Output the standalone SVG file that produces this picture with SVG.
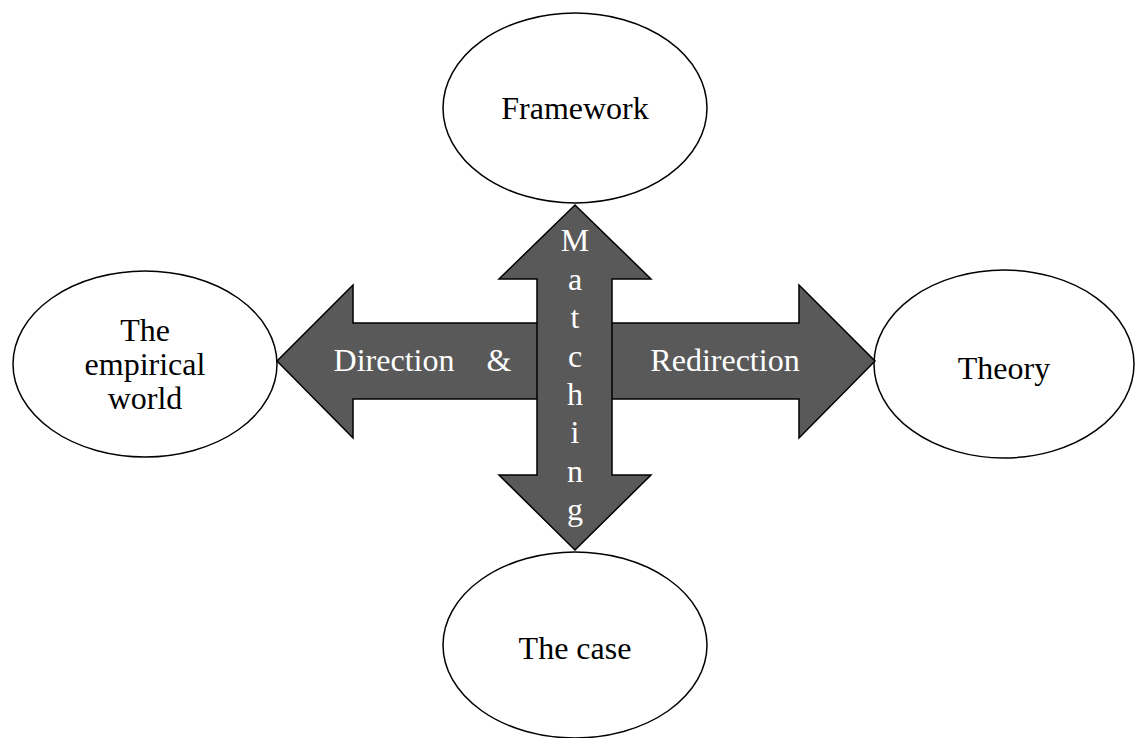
<svg xmlns="http://www.w3.org/2000/svg" width="1136" height="738" viewBox="0 0 1136 738">
<style>
.node ellipse{fill:#fff;stroke:#000;stroke-width:1.5}
.lbl{font-family:"Liberation Serif","Times New Roman",serif;font-size:32px;fill:#000;text-anchor:middle}
.arr{fill:#595959;stroke:#000;stroke-width:1.5;stroke-linejoin:miter}
.wl{font-family:"Liberation Serif","Times New Roman",serif;font-size:32px;fill:#fff;text-anchor:middle}
</style>
<rect width="1136" height="738" fill="#fff"/>
<g id="framework" class="node"><ellipse cx="575" cy="108" rx="132" ry="95"/><text class="lbl" x="575" y="119">Framework</text></g>
<g id="empirical" class="node"><ellipse cx="145" cy="364" rx="132" ry="93"/><text class="lbl" x="145" y="341">The</text><text class="lbl" x="145" y="375">empirical</text><text class="lbl" x="145" y="409">world</text></g>
<g id="theory" class="node"><ellipse cx="1004" cy="364" rx="130" ry="94"/><text class="lbl" x="1004" y="379">Theory</text></g>
<g id="case" class="node"><ellipse cx="575" cy="645" rx="132" ry="93"/><text class="lbl" x="575" y="659">The case</text></g>
<g id="connectors">
<polygon class="arr" points="277,361 353,285 353,323 799,323 799,285 875,361 799,438 799,399 353,399 353,438"/>
<polygon class="arr" points="575,205 651,279 612,279 612,475 651,475 575,550 499,475 537,475 537,279 499,279"/>
<text class="wl" x="394" y="371">Direction</text>
<text class="wl" x="499" y="371">&amp;</text>
<text class="wl" x="725" y="371">Redirection</text>
<g class="wl"><text x="575" y="251">M</text><text x="575" y="290">a</text><text x="575" y="328">t</text><text x="575" y="367">c</text><text x="575" y="405">h</text><text x="575" y="443">i</text><text x="575" y="482">n</text><text x="575" y="520">g</text></g>
</g>
</svg>
